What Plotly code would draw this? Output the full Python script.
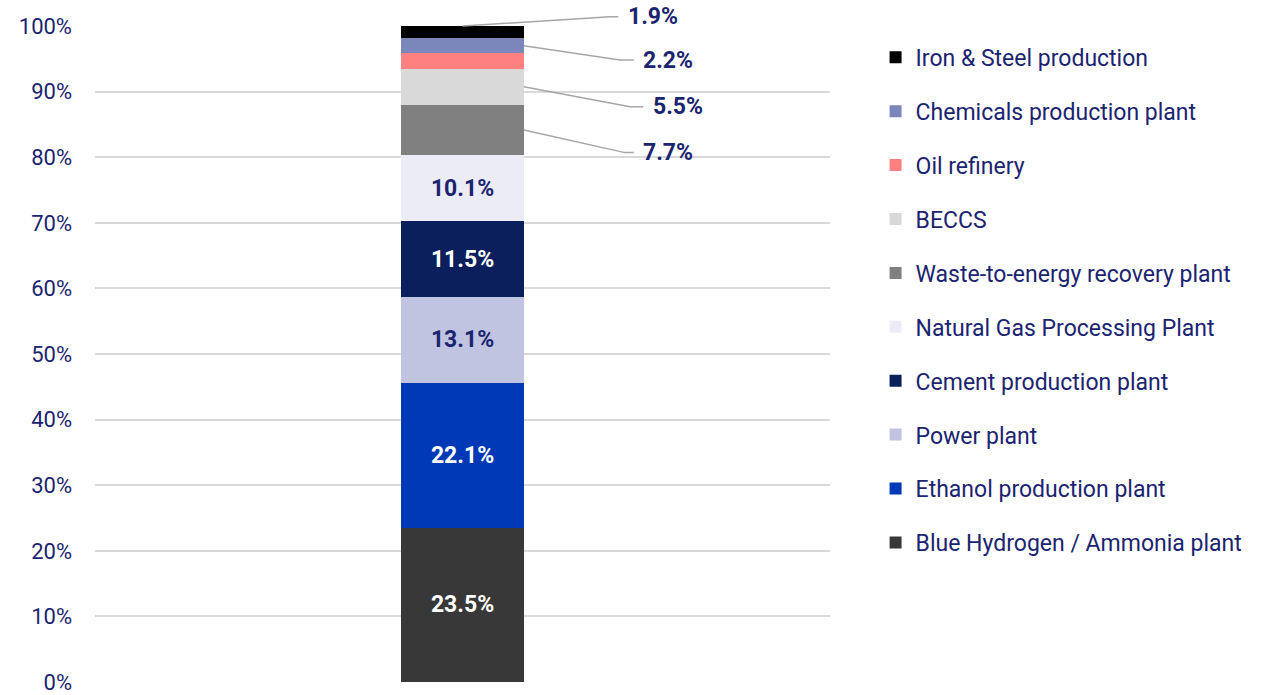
import plotly.graph_objects as go

categories = ["Blue Hydrogen / Ammonia plant", "Ethanol production plant", "Power plant",
              "Cement production plant", "Natural Gas Processing Plant",
              "Waste-to-energy recovery plant", "BECCS", "Oil refinery",
              "Chemicals production plant", "Iron & Steel production"]
values = [23.5, 22.1, 13.1, 11.5, 10.1, 7.7, 5.5, 2.4, 2.2, 1.9]
show_label = [True, True, True, True, True, False, False, False, False, False]
colors = ["#383838", "#0039b5", "#c0c4e0", "#0b1f5c", "#ececf6",
          "#808080", "#d9d9d9", "#ff8080", "#7b86bb", "#000000"]
text_colors = ["#ffffff", "#ffffff", "#1b2470", "#ffffff", "#1b2470",
               "#1b2470", "#1b2470", "#1b2470", "#1b2470", "#1b2470"]
y_ticks = [0, 10, 20, 30, 40, 50, 60, 70, 80, 90, 100]
y_tick_text = [f"{t}%" for t in y_ticks]

NAVY = "#1b2470"
FONT = "Roboto"
FS = 23
BAR_W = 0.167
X_RANGE = [-0.5, 0.5]
Y_RANGE = [0, 100]


def px_x(x):
    return (x - X_RANGE[0]) / (X_RANGE[1] - X_RANGE[0])


def px_y(y):
    return (y - Y_RANGE[0]) / (Y_RANGE[1] - Y_RANGE[0])


fig = go.Figure()
n = len(categories)
for k, (name, v, show, c, tc) in enumerate(zip(categories, values, show_label, colors, text_colors)):
    fig.add_trace(go.Bar(
        x=[0], y=[v], name=name, width=BAR_W, marker=dict(color=c, line=dict(width=0)),
        text=[f"{v:.1f}%"] if show else None, textposition="inside" if show else "none",
        insidetextanchor="middle", textangle=0, constraintext="none",
        textfont=dict(family=FONT, size=FS, color=tc, weight="bold"),
        legendgroup=name, legendrank=n - k, hoverinfo="name+y",
    ))

# outside labels with leader lines (label placement offsets)
outside_idx = [5, 6, 8, 9]
label_y = {9: 101.4, 8: 94.8, 6: 87.7, 5: 80.7}
elbow_x = {9: 0.201, 8: 0.214, 6: 0.228, 5: 0.221}
end_x = {9: 0.212, 8: 0.233, 6: 0.246, 5: 0.233}
cum = []
s = 0
for v in values:
    cum.append((s, s + v))
    s += v
for i in outside_idx:
    lo, hi = cum[i]
    if i == len(values) - 1:
        sx, sy = 0.0, hi
    else:
        sx, sy = BAR_W / 2, (lo + hi) / 2
    ly = label_y[i]
    fig.add_shape(type="path",
                  path=(f"M {px_x(sx)},{px_y(sy)} L {px_x(elbow_x[i])},{px_y(ly)} "
                        f"L {px_x(end_x[i])},{px_y(ly)}"),
                  line=dict(color="#a6a6a6", width=1.5), xref="paper", yref="paper",
                  layer="above")
    fig.add_annotation(x=px_x(end_x[i] + 0.01), y=px_y(ly), text=f"{values[i]:.1f}%",
                       showarrow=False, xref="paper", yref="paper",
                       xanchor="left", yanchor="middle",
                       font=dict(family=FONT, size=FS, color=NAVY, weight="bold"))

fig.update_layout(
    barmode="stack",
    width=1273, height=695,
    margin=dict(l=95, r=443, t=26, b=13, autoexpand=False),
    plot_bgcolor="white", paper_bgcolor="white",
    font=dict(family=FONT, color=NAVY),
    showlegend=True,
    legend=dict(traceorder="grouped", tracegroupgap=21, x=1.062, y=0.985,
                xanchor="left", yanchor="top",
                font=dict(family=FONT, size=FS, color=NAVY), itemwidth=30),
    xaxis=dict(range=X_RANGE, showticklabels=False, showgrid=False, zeroline=False,
               fixedrange=True, automargin=False),
    yaxis=dict(range=Y_RANGE, tickvals=y_ticks, ticktext=y_tick_text, showgrid=True,
               gridcolor="#d9d9d9", gridwidth=1.5, zeroline=False,
               ticklabeloverflow="allow", automargin=False,
               tickfont=dict(family=FONT, size=22, color=NAVY), ticklabelstandoff=22),
)
fig.write_html("out.html", config={"displayModeBar": False},
               post_script="document.body.style.margin='0';")
